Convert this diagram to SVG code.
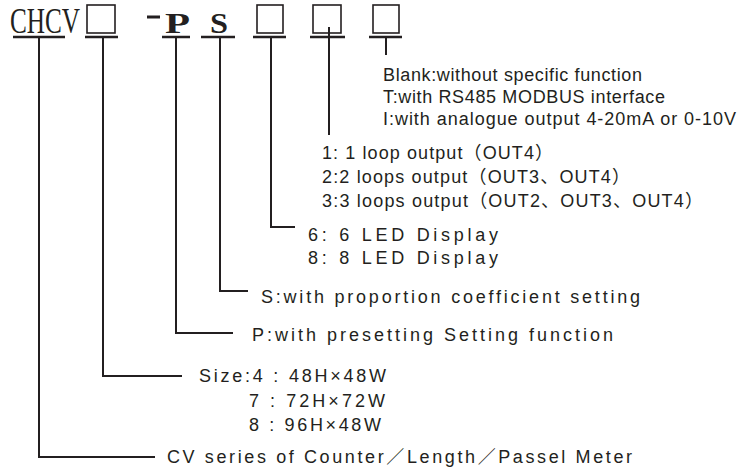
<svg xmlns="http://www.w3.org/2000/svg" width="738" height="472" viewBox="0 0 738 472">
<style>
.t{font-family:"Liberation Sans","Noto Sans CJK SC",sans-serif;font-size:18px;fill:#231f20}
.ln{stroke:#231f20;stroke-width:2;fill:none}
.bx{stroke:#231f20;stroke-width:1.6;fill:none}
.ul{stroke:#231f20;stroke-width:2.4;fill:none}
</style>
<rect width="738" height="472" fill="#fff"/>
<g id="header">
<text x="10" y="33" font-family="Liberation Serif,serif" font-size="36" fill="#231f20" textLength="70" lengthAdjust="spacingAndGlyphs">CHCV</text>
<rect class="bx" x="87" y="5" width="28" height="28"/>
<rect x="147" y="15.5" width="13" height="3" fill="#231f20"/>
<text x="165" y="33" font-family="Liberation Serif,serif" font-weight="bold" font-size="29" fill="#231f20" textLength="25" lengthAdjust="spacingAndGlyphs">P</text>
<text x="210" y="33" font-family="Liberation Serif,serif" font-weight="bold" font-size="29" fill="#231f20" textLength="18" lengthAdjust="spacingAndGlyphs">S</text>
<rect class="bx" x="257" y="5" width="26" height="28"/>
<rect class="bx" x="313" y="5" width="28" height="28"/>
<rect class="bx" x="373" y="5" width="26" height="28"/>
<path class="ul" d="M13 37H65M85 37H118M162 37H190M201 37H235M253 37H286M310 37H345M369 37H402"/>
</g>
<g id="connectors">
<path class="ln" d="M39 37V457H155"/>
<path class="ln" d="M103 37V376H182"/>
<path class="ln" d="M176 37V333H233"/>
<path class="ln" d="M220 37V291H248"/>
<path class="ln" d="M271 37V227H295"/>
<path class="ln" d="M329 27V135"/>
<path class="ln" d="M386 37V55"/>
</g>
<g id="node-function">
<text class="t" x="383" y="81" textLength="259">Blank:without specific function</text>
<text class="t" x="383" y="103" textLength="282">T:with RS485 MODBUS interface</text>
<text class="t" x="383" y="125" textLength="353">I:with analogue output 4-20mA or 0-10V</text>
</g>
<g id="node-output">
<text class="t" x="322" y="159" textLength="231">1: 1 loop output（OUT4）</text>
<text class="t" x="322" y="183" textLength="308">2:2 loops output（OUT3、OUT4）</text>
<text class="t" x="322" y="207" textLength="381">3:3 loops output（OUT2、OUT3、OUT4）</text>
</g>
<g id="node-display">
<text class="t" x="308" y="241" textLength="190">6: 6 LED Display</text>
<text class="t" x="308" y="264" textLength="190">8: 8 LED Display</text>
</g>
<g id="node-s">
<text class="t" x="261" y="303" textLength="379">S:with proportion coefficient setting</text>
</g>
<g id="node-p">
<text class="t" x="252" y="341" textLength="361">P:with presetting Setting function</text>
</g>
<g id="node-size">
<text class="t" x="199" y="382" textLength="187">Size:4 : 48H×48W</text>
<text class="t" x="249" y="407" textLength="136">7 : 72H×72W</text>
<text class="t" x="249" y="431" textLength="132">8 : 96H×48W</text>
</g>
<g id="node-series">
<text class="t" x="167" y="463" textLength="465">CV series of Counter／Length／Passel Meter</text>
</g>
</svg>
